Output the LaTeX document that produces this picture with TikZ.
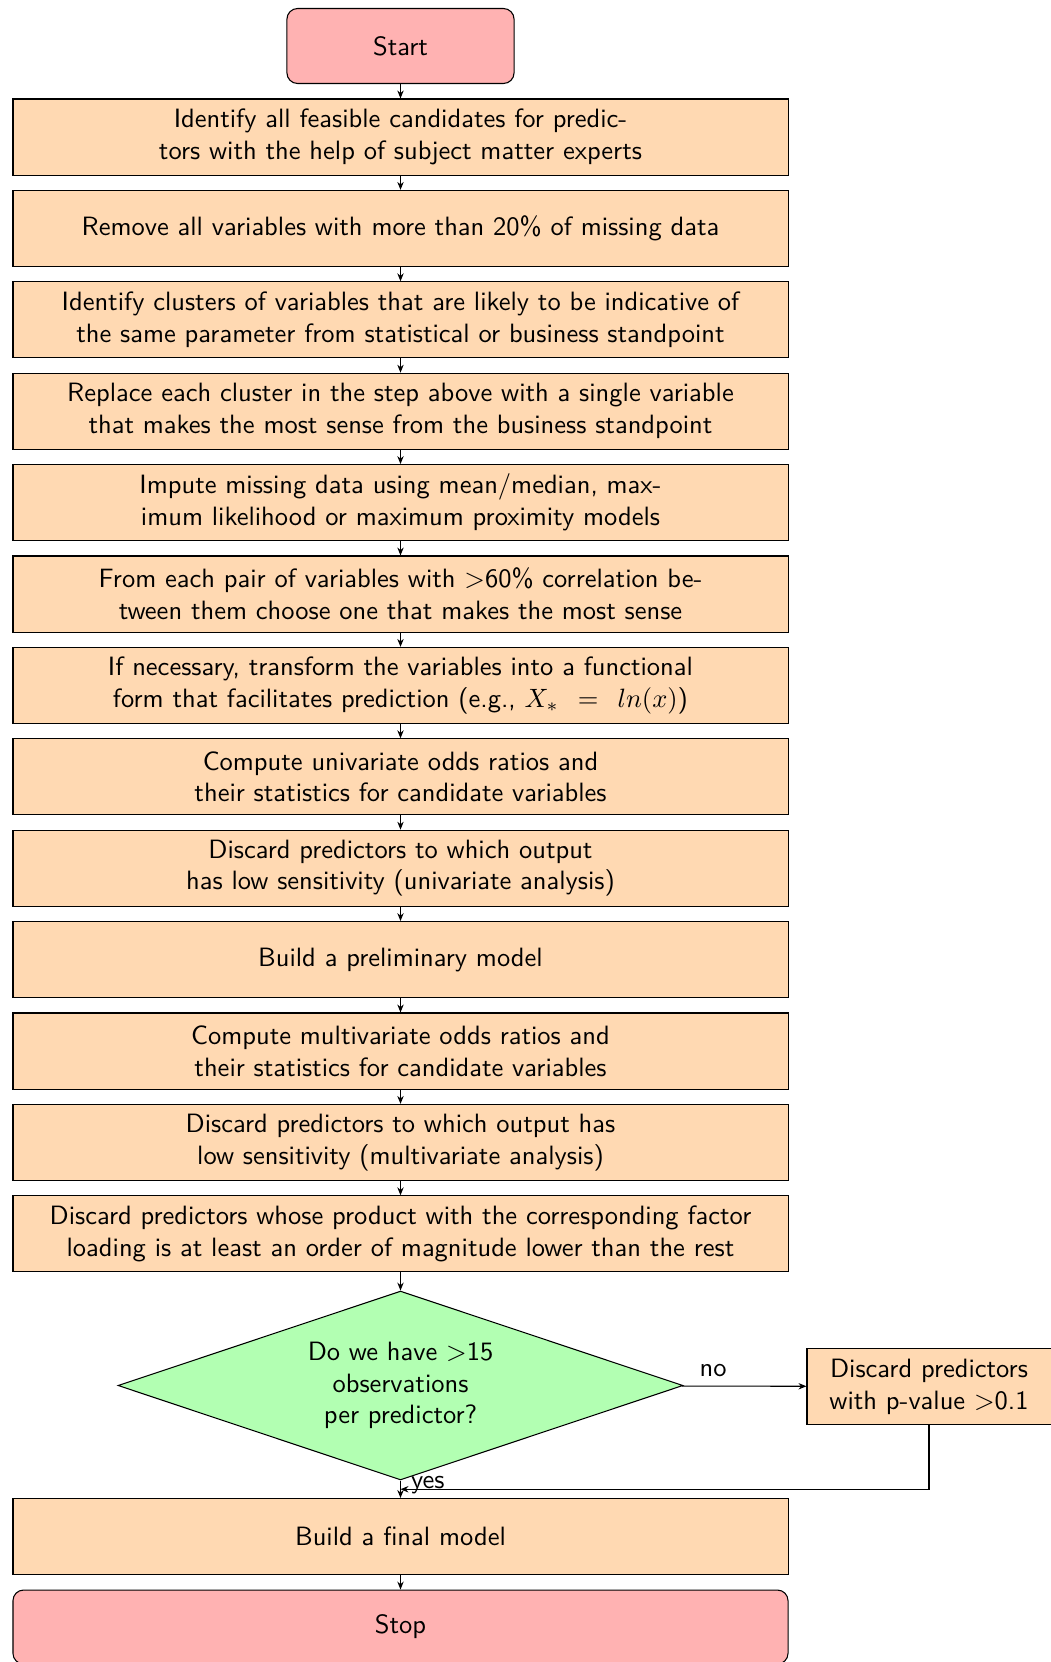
\documentclass[tikz,border=0pt]{standalone}
\usetikzlibrary{shapes.geometric,arrows.meta,calc}
\begin{document}
\begin{tikzpicture}[x=0.3774pt,y=-0.3774pt,
  font=\sffamily,
  >={Stealth[length=3pt,width=2.4pt]},
  every node/.style={inner sep=2pt},
  termbox/.style={draw=black, fill=red!30, rounded corners=4pt, align=center},
  procbox/.style={draw=black, fill=orange!30, align=center, minimum width=292.5pt, minimum height=28.7pt},
  decbox/.style={draw=black, fill=green!30, diamond, aspect=3, inner sep=0pt, align=center, minimum width=213.2pt, minimum height=71.3pt},
  conn/.style={->, line width=0.4pt}]
\useasboundingbox (0,0) rectangle (1051,1662);
\node[termbox, minimum width=85.7pt, minimum height=28.3pt] (start) at (400.5,46) {Start};
\node[procbox] (b1) at (400.5,137) {Identify all feasible candidates for predic-\\tors with the help of subject matter experts};
\node[procbox] (b2) at (400.5,228.4) {Remove all variables with more than 20\% of missing data};
\node[procbox] (b3) at (400.5,319.8) {Identify clusters of variables that are likely to be indicative of\\the same parameter from statistical or business standpoint};
\node[procbox] (b4) at (400.5,411.2) {Replace each cluster in the step above with a single variable\\that makes the most sense from the business standpoint};
\node[procbox] (b5) at (400.5,502.6) {Impute missing data using mean/median, max-\\imum likelihood or maximum proximity models};
\node[procbox] (b6) at (400.5,594) {From each pair of variables with $>$60\% correlation be-\\tween them choose one that makes the most sense};
\node[procbox] (b7) at (400.5,685.4) {If necessary, transform the variables into a functional\\form that facilitates prediction (e.g., $X_*\mskip8mu=\mskip8mu ln(x)$)};
\node[procbox] (b8) at (400.5,776.8) {Compute univariate odds ratios and\\their statistics for candidate variables};
\node[procbox] (b9) at (400.5,868.2) {Discard predictors to which output\\has low sensitivity (univariate analysis)};
\node[procbox] (b10) at (400.5,959.6) {Build a preliminary model};
\node[procbox] (b11) at (400.5,1051) {Compute multivariate odds ratios and\\their statistics for candidate variables};
\node[procbox] (b12) at (400.5,1142.4) {Discard predictors to which output has\\low sensitivity (multivariate analysis)};
\node[procbox] (b13) at (400.5,1233.8) {Discard predictors whose product with the corresponding factor\\loading is at least an order of magnitude lower than the rest};
\node[decbox] (dec) at (400.5,1385.5) {Do we have $>$15\\observations\\per predictor?};
\node[procbox, minimum width=92.1pt] (disc) at (929,1386.5) {Discard predictors\\with p-value $>$0.1};
\node[procbox] (final) at (400.5,1536.5) {Build a final model};
\node[termbox, minimum width=292.5pt, minimum height=27.9pt] (stop) at (400.5,1627) {Stop};
\draw[conn] (start) -- (b1);
\foreach \a/\b in {b1/b2,b2/b3,b3/b4,b4/b5,b5/b6,b6/b7,b7/b8,b8/b9,b9/b10,b10/b11,b11/b12,b12/b13,b13/dec}
  \draw[conn] (\a) -- (\b);
\draw[conn] (dec) -- node[near start, above, yshift=1.5pt] {no} (disc);
\draw[conn] (dec) -- (final);
\node[anchor=west, inner sep=0pt] (yes) at ($(dec.south)+(10,5)$) {yes};
\coordinate (join) at ($(dec.south)!0.5!(final.north)$);
\draw[conn] (disc.south) |- (join);
\draw[conn] (final) -- (stop);
\end{tikzpicture}
\end{document}
